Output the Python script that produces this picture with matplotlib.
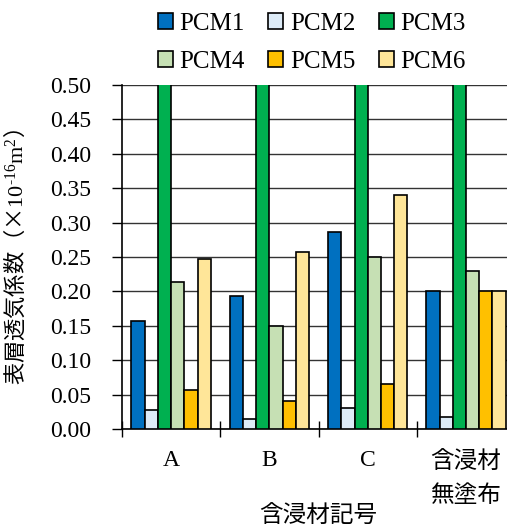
"""
Surface air permeability by impregnant — grouped bar chart (PCM1–PCM6).
"""

import matplotlib
matplotlib.use("Agg")
import matplotlib.pyplot as plt
import numpy as np

plt.rcParams["font.family"] = ["Liberation Serif", "Noto Sans CJK JP"]
plt.rcParams["mathtext.fontset"] = "custom"
plt.rcParams["mathtext.rm"] = "Liberation Serif"
plt.rcParams["mathtext.it"] = "Liberation Serif:italic"

categories = ["A", "B", "C", "含浸材\n無塗布"]
series = ["PCM1", "PCM2", "PCM3", "PCM4", "PCM5", "PCM6"]
pcm1 = [0.157, 0.193, 0.287, 0.200]
pcm2 = [0.028, 0.015, 0.030, 0.018]
pcm3 = [0.60, 0.60, 0.60, 0.60]   # beyond the axis limit
pcm4 = [0.213, 0.150, 0.250, 0.230]
pcm5 = [0.056, 0.040, 0.066, 0.201]
pcm6 = [0.247, 0.257, 0.340, 0.200]
values = [pcm1, pcm2, pcm3, pcm4, pcm5, pcm6]
yticks = [0.00, 0.05, 0.10, 0.15, 0.20, 0.25, 0.30, 0.35, 0.40, 0.45, 0.50]

colors = ["#0070C0", "#DDEBF7", "#00B050", "#C6E0B4", "#FFC000", "#FFE699"]
CJK = ["Noto Sans CJK JP", "DejaVu Sans"]
FS = 17

fig = plt.figure(figsize=(5.07, 5.27), dpi=100)
ax = fig.add_axes([0.2406, 0.186, 0.7755, 0.6527])

x = np.arange(len(categories))
width = 0.1345
bars = []
for i, (name, vals) in enumerate(zip(series, values)):
    b = ax.bar(x + (i - 2.5) * width, vals, width, color=colors[i], edgecolor="black",
               linewidth=1.2, label=name, zorder=3)
    bars.append(b)

ax.set_xlim(-0.5, len(categories) - 0.5)
ax.set_ylim(0, 0.5)
ax.set_yticks(yticks)
ax.set_yticklabels([f"{v:.2f}" for v in yticks], fontsize=FS)
ax.yaxis.grid(True, color="#333333", linewidth=1.0, zorder=0)
ax.tick_params(axis="y", direction="out", length=7, width=1, pad=15)

# group boundaries as major ticks, names on minor ticks
ax.set_xticks(np.arange(len(categories)) - 0.5)
ax.set_xticklabels([])
ax.tick_params(axis="x", which="major", direction="inout", length=12, width=1)
ax.set_xticks(x, minor=True)
ax.set_xticklabels(categories, minor=True)
for lbl in ax.get_xticklabels(minor=True):
    lbl.set_fontsize(FS)
    if lbl.get_text() not in ("A", "B", "C"):
        lbl.set_family(CJK)
        lbl.set_linespacing(1.6)
ax.tick_params(axis="x", which="minor", length=0, pad=15)

ax.spines[["top", "right"]].set_visible(False)
ax.spines["left"].set_linewidth(1.2)
ax.spines["bottom"].set_linewidth(1.2)

ax.set_ylabel("表層透気係数（×$\\mathrm{10^{\\text{-}16}m^{2}}$）", family=CJK, fontsize=16)
ax.yaxis.set_label_coords(-0.24, 0.5)
ax.set_xlabel("含浸材記号", family=CJK, fontsize=FS, labelpad=-1)

# legend filled row by row: PCM1-3 on top, PCM4-6 below
order = [0, 3, 1, 4, 2, 5]
fig.legend([bars[i] for i in order], [series[i] for i in order],
           loc="center", bbox_to_anchor=(0.615, 0.919), ncol=3, frameon=False,
           fontsize=18, handlelength=0.6, handleheight=0.6, handletextpad=0.25,
           columnspacing=0.95, labelspacing=0.65, borderpad=0)

plt.savefig("out.png", dpi=100)
